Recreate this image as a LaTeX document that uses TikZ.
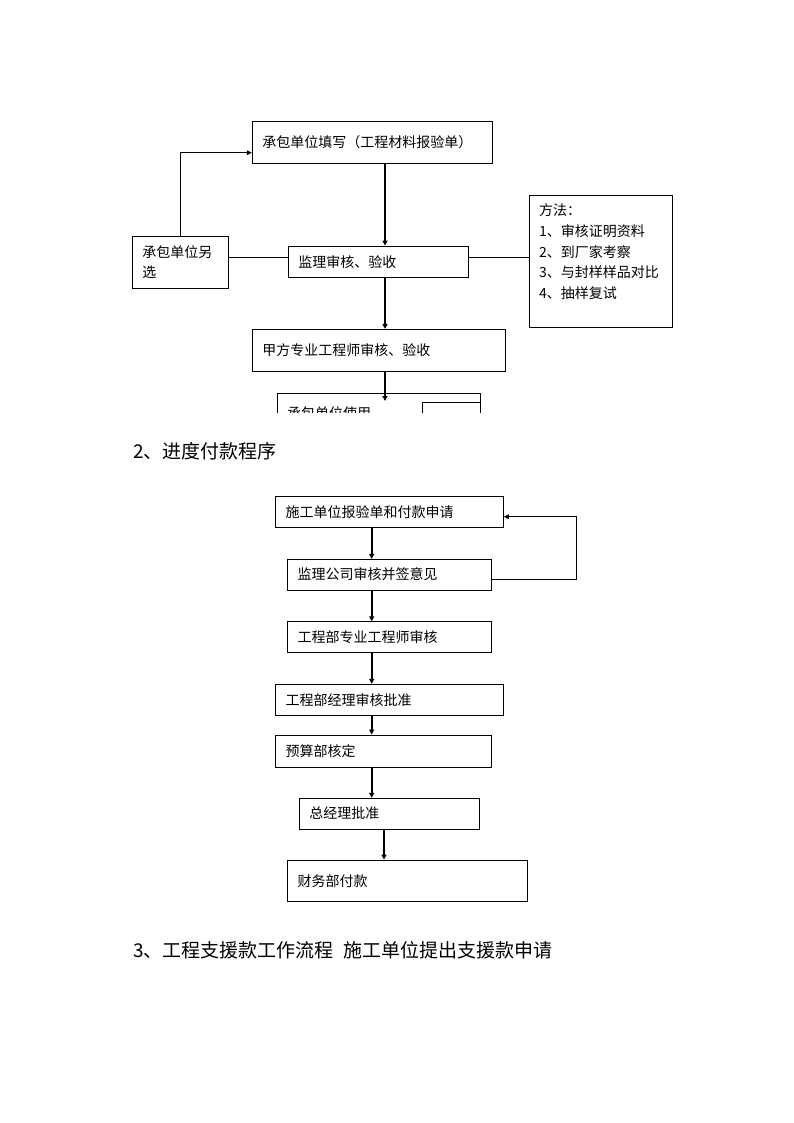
\documentclass[tikz,border=0pt]{standalone}
\usepackage{fontspec}
\setmainfont{Noto Sans CJK SC}
\usetikzlibrary{arrows.meta}
\begin{document}
\begin{tikzpicture}[x=1pt,y=-1pt,
  box/.style={draw, line width=0.9pt, rectangle, inner ysep=0pt, inner xsep=10pt, align=left,
              font=\fontsize{14}{20.5}\selectfont},
  plain/.style={draw, line width=0.9pt, rectangle, inner sep=0pt},
  txt/.style={inner sep=0pt, font=\fontsize{14}{20.8}\selectfont},
  flow/.style={line width=1.8pt, -{Triangle[length=5pt,width=5pt]}},
  conn/.style={line width=0.9pt},
  tharrow/.style={line width=0.9pt, -{Triangle[length=5pt,width=4.5pt]}},
  head/.style={font=\fontsize{19}{22}\selectfont, anchor=west, inner sep=0pt}]
\useasboundingbox (0,0) rectangle (794,1123);

% ---------- Diagram 1 ----------
\node[box, text width=220pt, minimum height=41.6pt] (A) at (372.3,142.5) {承包单位填写（工程材料报验单）};
\node[box, text width=76pt, minimum height=52.3pt] (B) at (180.3,262.2) {承包单位另\\选};
\node[box, text width=160pt, minimum height=31.3pt] (C) at (378.3,261.7) {监理审核、验收};
\node[box, text width=232.7pt, minimum height=41.7pt] (D) at (378.7,350.2) {甲方专业工程师审核、验收};
\node[plain, minimum width=143.3pt, minimum height=132.3pt] (M) at (600.7,261.2) {};
\node[txt, anchor=north west, align=left] (Mt) at (539,203.5) {方法：\\1、审核证明资料\\2、到厂家考察\\3、与封样样品对比\\4、抽样复试};

\begin{scope}
  \clip (260,380) rectangle (500,412.5);
  \node[plain, anchor=north west, minimum width=203.3pt, minimum height=40pt] (E) at (276.7,392.7) {};
  \node[plain, anchor=north west, minimum width=58.3pt, minimum height=30pt] (E2) at (421.7,402.3) {};
  \node[txt, anchor=west] (Et) at (287,413) {承包单位使用};
\end{scope}

\coordinate (ax1) at (385,0);
\coordinate (l1) at (0,257.5);
\coordinate (eend) at (385,401);
\draw[flow] (A.south -| ax1) -- (C.north -| ax1);
\draw[flow] (C.south -| ax1) -- (D.north -| ax1);
\draw[flow] (D.south -| ax1) -- (eend);
\draw[conn] (B.east |- l1) -- (C.west |- l1);
\draw[conn] (C.east |- l1) -- (M.west |- l1);
\draw[tharrow] (B.north) |- ([yshift=-10.2pt]A.west);

% ---------- Heading 2 ----------
\node[head] (h2) at (133,451) {2、进度付款程序};

% ---------- Diagram 2 ----------
\node[box, text width=207.6pt, minimum height=31.7pt] (P1) at (389.5,511.85) {施工单位报验单和付款申请};
\node[box, text width=184pt, minimum height=30.7pt] (P2) at (389.7,574.65) {监理公司审核并签意见};
\node[box, text width=184pt, minimum height=30.6pt] (P3) at (389.7,637) {工程部专业工程师审核};
\node[box, text width=207.6pt, minimum height=31.4pt] (P4) at (389.5,700) {工程部经理审核批准};
\node[box, text width=196pt, minimum height=32.3pt] (P5) at (383.7,751.15) {预算部核定};
\node[box, text width=159.7pt, minimum height=30.7pt] (P6) at (389.15,813.65) {总经理批准};
\node[box, text width=219.6pt, minimum height=41.7pt] (P7) at (407.5,880.85) {财务部付款};

\coordinate (ax2) at (371.7,0);
\coordinate (ax3) at (384,0);
\draw[flow] (P1.south -| ax2) -- (P2.north -| ax2);
\draw[flow] (P2.south -| ax2) -- (P3.north -| ax2);
\draw[flow] (P3.south -| ax2) -- (P4.north -| ax2);
\draw[flow] (P4.south -| ax2) -- (P5.north -| ax2);
\draw[flow] (P5.south -| ax2) -- (P6.north -| ax2);
\draw[flow] (P6.south -| ax3) -- (P7.north -| ax3);
\draw[tharrow] ([yshift=-4.6pt]P2.east) -- ++(84,0) |- ([yshift=-4.85pt]P1.east);

% ---------- Heading 3 ----------
\node[head] (h3) at (133,950) {3、工程支援款工作流程\hspace{0.5em}施工单位提出支援款申请};
\end{tikzpicture}
\end{document}
